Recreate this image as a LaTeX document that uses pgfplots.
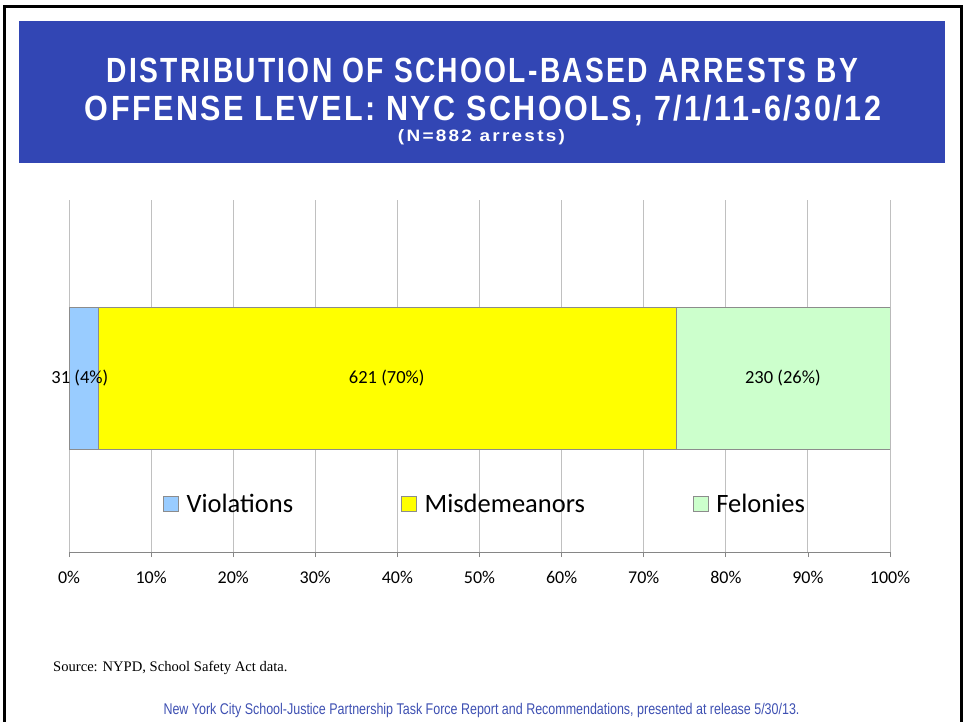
\documentclass[border=0pt]{standalone}
\usepackage{pgfplots}
\pgfplotsset{compat=1.18}
\usepackage{fontspec}
\setmainfont{Carlito}
\newfontfamily\arialfont{Liberation Sans}
\newfontfamily\timesfont{Liberation Serif}
\definecolor{banner}{RGB}{50,70,180}
\definecolor{footblue}{RGB}{62,80,178}
\definecolor{vblue}{RGB}{153,204,255}
\definecolor{myellow}{RGB}{255,255,0}
\definecolor{fgreen}{RGB}{204,255,204}
\definecolor{bordergray}{RGB}{140,140,140}
\definecolor{gridgray}{RGB}{192,192,192}
\definecolor{axisgray}{RGB}{134,134,134}
\begin{document}
\begin{tikzpicture}[x=1pt,y=1pt]
\path[use as bounding box] (0,0) rectangle (965,721);
\draw[line width=3pt] (4.5,-5) -- (4.5,714.5) -- (961.5,714.5) -- (961.5,-5);
\fill[banner] (19,558) rectangle (945,700);
\node[anchor=base, text=white, inner sep=0pt] at (482.5,638) {\resizebox{751pt}{\height}{\fontsize{35}{35}\selectfont\arialfont\bfseries\addfontfeatures{LetterSpace=8}DISTRIBUTION OF SCHOOL-BASED ARRESTS BY}};
\node[anchor=base, text=white, inner sep=0pt] at (483,600) {\resizebox{796pt}{\height}{\fontsize{35}{35}\selectfont\arialfont\bfseries\addfontfeatures{LetterSpace=8}OFFENSE LEVEL: NYC SCHOOLS, 7/1/11-6/30/12}};
\node[anchor=base, text=white, inner sep=0pt] at (481.5,579) {\resizebox{167pt}{\height}{\fontsize{16.5}{16.5}\selectfont\arialfont\bfseries\addfontfeatures{LetterSpace=12}(N=882 arrests)}};
\begin{axis}[
  at={(69pt,169pt)}, anchor=south west, scale only axis,
  width=821pt, height=352pt,
  xmin=0, xmax=100, ymin=-0.989, ymax=1.011,
  xbar stacked, bar width=142pt,
  axis x line*=bottom, axis y line=none,
  axis line style={draw=axisgray, line width=1pt},
  xtick={0,10,...,100},
  xticklabel={\pgfmathprintnumber{\tick}\%},
  xticklabel style={font=\fontsize{18}{18}\selectfont, yshift=-11pt},
  /pgf/number format/assume math mode=true,
  tick align=outside, major tick length=5pt,
  xtick style={draw=axisgray, line width=0.8pt},
  ytick=\empty,
  xmajorgrids, grid style={draw=gridgray, line width=1pt},
  legend image code/.code={\draw[#1] (0pt,-7.5pt) rectangle (15pt,7.5pt);},
  legend style={at={(0.1145,0.136)}, anchor=west, draw=none, fill=none,
    font=\fontsize{26.5}{26.5}\selectfont, legend columns=-1, inner sep=0pt,
    /tikz/every odd column/.append style={column sep=6pt},
    /tikz/every even column/.append style={column sep=106pt}},
  legend cell align=left,
  point meta=explicit symbolic,
  nodes near coords,
  every node near coord/.append style={font=\fontsize{18.5}{18.5}\selectfont, text=black},
]
\addplot[fill=vblue, draw=bordergray, every node near coord/.append style={xshift=-3.5pt}] coordinates {(3.5,0) [31 (4\%)]};
\addplot[fill=myellow, draw=bordergray] coordinates {(70.4,0) [621 (70\%)]};
\addplot[fill=fgreen, draw=bordergray] coordinates {(26.1,0) [230 (26\%)]};
\legend{Violations, Misdemeanors, Felonies}
\end{axis}
\node[anchor=base west, inner sep=0pt] at (53,50) {\fontsize{14.6}{14.6}\selectfont\timesfont Source: NYPD, School Safety Act data.};
\node[anchor=base, inner sep=0pt, text=footblue] at (481.5,7) {\resizebox{636pt}{\height}{\fontsize{15.5}{15.5}\selectfont\arialfont New York City School-Justice Partnership Task Force Report and Recommendations, presented at release 5/30/13.}};
\end{tikzpicture}
\end{document}
